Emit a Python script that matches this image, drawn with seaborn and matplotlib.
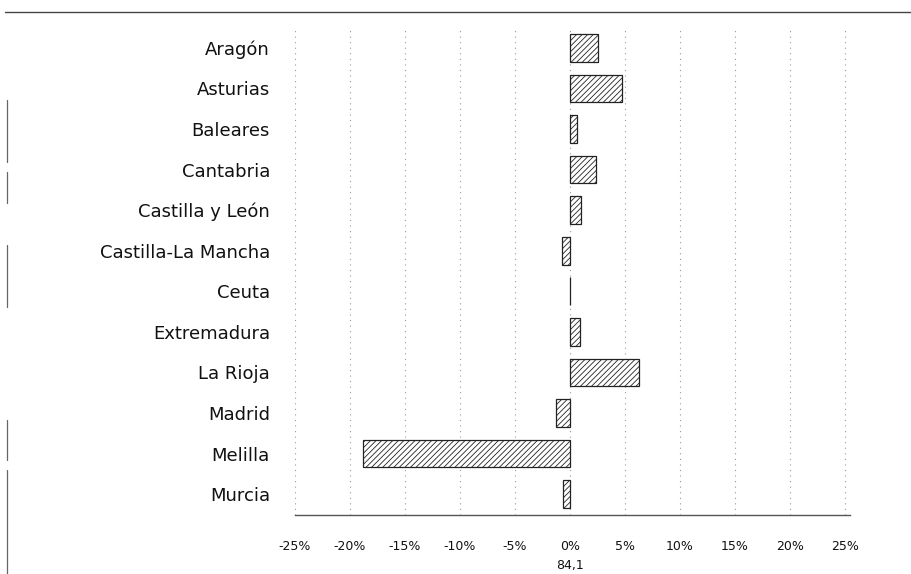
import matplotlib
matplotlib.use("Agg")
import matplotlib.pyplot as plt
import seaborn as sns
import pandas as pd
from matplotlib.lines import Line2D

regions = ["Aragón", "Asturias", "Baleares", "Cantabria", "Castilla y León",
           "Castilla-La Mancha", "Ceuta", "Extremadura", "La Rioja", "Madrid",
           "Melilla", "Murcia"]
values = [2.5, 4.7, 0.6, 2.4, 1.0, -0.7, 0.0, 0.9, 6.3, -1.3, -18.8, -0.6]
tick_vals = [-25, -20, -15, -10, -5, 0, 5, 10, 15, 20, 25]
tick_labels = ["-25%", "-20%", "-15%", "-10%", "-5%", "0%", "5%", "10%", "15%", "20%", "25%"]
xlabel = "84,1"

sns.set_theme(style="white")
plt.rcParams["font.family"] = ["DejaVu Sans"]
plt.rcParams["hatch.linewidth"] = 0.6

df = pd.DataFrame({"region": regions, "value": values})

fig = plt.figure(figsize=(9.12, 5.74), dpi=100)
ax = fig.add_axes([295 / 912, 1 - 514.5 / 574, (850 - 295) / 912, (514.5 - 27.5) / 574])

sns.barplot(data=df, x="value", y="region", orient="h", color="white",
            edgecolor="#222222", linewidth=0.9, width=0.68, ax=ax)
for p in ax.patches:
    p.set_hatch("//////")
    p.set_facecolor("white")

ax.set_xlim(-25, 25.45)
ax.set_ylim(len(regions) - 0.5, -0.5)
ax.set_xticks(tick_vals)
ax.set_xticklabels(tick_labels, fontsize=9, color="#111111")
ax.tick_params(axis="x", length=0, pad=18)
ax.tick_params(axis="y", length=0, pad=18, labelsize=13, labelcolor="#111111")
ax.set_ylabel("")
ax.set_xlabel("")
ax.xaxis.grid(True, linestyle=(0, (1, 4)), color="#999999", linewidth=0.8)
ax.set_axisbelow(True)
for s in ["left", "top", "right"]:
    ax.spines[s].set_visible(False)
ax.spines["bottom"].set_color("#555555")
ax.spines["bottom"].set_linewidth(1.0)

fig.text(570 / 912, 1 - 565 / 574, xlabel, ha="center", va="center",
         fontsize=9, color="#111111")

fig.add_artist(Line2D([5 / 912, 1], [1 - 12 / 574, 1 - 12 / 574], color="#444444", lw=1.0))
for y0, y1 in [(100, 162), (172, 203), (245, 307), (420, 460), (470, 574)]:
    fig.add_artist(Line2D([7 / 912, 7 / 912], [1 - y0 / 574, 1 - y1 / 574],
                          color="#666666", lw=0.9))

fig.savefig("out.png", dpi=100)
